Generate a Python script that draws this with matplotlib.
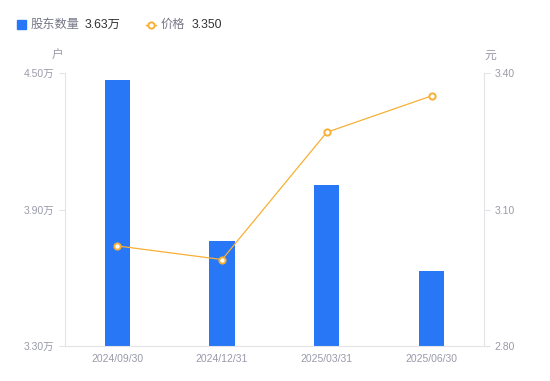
import matplotlib
matplotlib.use("Agg")
import matplotlib.pyplot as plt
import numpy as np

plt.rcParams["font.family"] = ["Liberation Sans", "Noto Sans CJK SC", "DejaVu Sans"]

# ---------------------------------------------------------------------------
# data
# ---------------------------------------------------------------------------
dates = ["2024/09/30", "2024/12/31", "2025/03/31", "2025/06/30"]
holders = [4.47, 3.76, 4.01, 3.63]      # 万户
price = [3.02, 2.99, 3.27, 3.35]        # 元
left_ticks = [3.30, 3.90, 4.50]
right_ticks = [2.80, 3.10, 3.40]

BLUE = "#2777f6"
ORANGE = "#f7b035"
GREY_TXT = "#9a9aaa"
AXIS = "#e3e3e8"

fig = plt.figure(figsize=(5.5, 3.81), dpi=100)
ax = fig.add_axes([0.118, 0.092, 0.762, 0.716])
ax2 = ax.twinx()

x = np.arange(len(dates))
ax.bar(x, holders, width=0.24, color=BLUE, zorder=2)
ax.set_xlim(-0.5, len(dates) - 0.5)
ax.set_ylim(left_ticks[0], left_ticks[-1])
ax.set_yticks(left_ticks)
ax.set_yticklabels([f"{v:.2f}万" for v in left_ticks])
ax.set_xticks(x)
ax.set_xticklabels(dates)

ax2.plot(x, price, color=ORANGE, lw=0.9, marker="o", ms=4.5,
         mfc="white", mec=ORANGE, mew=1.4, zorder=3)
ax2.set_ylim(right_ticks[0], right_ticks[-1])
ax2.set_yticks(right_ticks)
ax2.set_yticklabels([f"{v:.2f}" for v in right_ticks])

for a in (ax, ax2):
    a.spines["top"].set_visible(False)
    a.spines["left"].set_color(AXIS)
    a.spines["right"].set_color(AXIS)
    a.spines["bottom"].set_color(AXIS)
    a.tick_params(colors=AXIS, labelcolor=GREY_TXT, labelsize=7.5, length=4, width=0.8)
ax.tick_params(axis="x", length=0, pad=6)
ax.spines["right"].set_visible(False)
ax2.spines["left"].set_visible(False)
ax2.spines["bottom"].set_visible(False)

# unit labels
fig.text(58 / 550, 1 - 56 / 381, "户", color=GREY_TXT, fontsize=8.5, ha="center", va="center")
fig.text(490 / 550, 1 - 56 / 381, "元", color=GREY_TXT, fontsize=8.5, ha="center", va="center")

# legend header
ly = 1 - 24.5 / 381
fig.patches.append(plt.Rectangle((17 / 550, ly - 4.5 / 381), 9 / 550, 9 / 381,
                                 transform=fig.transFigure, color=BLUE))
fig.text(31 / 550, ly, "股东数量", color="#777788", fontsize=8.8, va="center")
fig.text(85 / 550, ly, f"{holders[-1]:.2f}万", color="#333333", fontsize=8.8, va="center")
fig.lines.append(plt.Line2D([146 / 550, 156 / 550], [ly, ly], transform=fig.transFigure,
                            color=ORANGE, lw=1))
fig.lines.append(plt.Line2D([151 / 550], [ly], transform=fig.transFigure, ls="none",
                            marker="o", ms=4.5, mfc="white", mec=ORANGE, mew=1.4))
fig.text(161 / 550, ly, "价格", color="#777788", fontsize=8.8, va="center")
fig.text(192 / 550, ly, f"{price[-1]:.3f}", color="#333333", fontsize=8.8, va="center")

fig.savefig("out.png", dpi=100)
